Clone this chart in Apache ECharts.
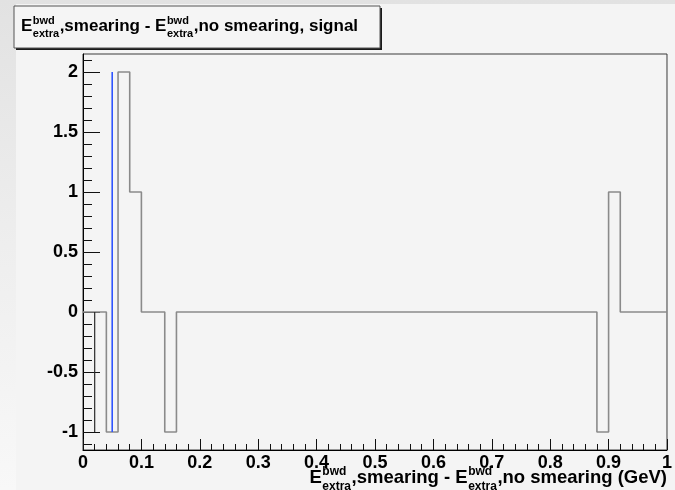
<!DOCTYPE html>
<html>
<head>
<meta charset="utf-8">
<script src="https://cdn.jsdelivr.net/npm/echarts@6/dist/echarts.min.js"></script>
<style>
  html, body { margin: 0; padding: 0; }
  body {
    width: 675px; height: 490px; overflow: hidden;
    background: linear-gradient(to bottom, #e2e2e2 0%, #eeeeee 50%, #f8f8f8 100%);
    position: relative;
  }
  #pad { position: absolute; left: 16px; top: 4px; right: 0; bottom: 0; background: #f4f4f4; }
  #chart { position: absolute; left: 0; top: 0; width: 675px; height: 490px; }
</style>
</head>
<body>
<div id="pad"></div>
<div id="chart"></div>
<script>
// Histogram of E_extra (smeared) minus E_extra (unsmeared), 50 bins on [0, 1] GeV
const binLow = 0;
const binWidth = 0.02;
const binValues = [
  0, 0, -1, 2, 1, 0, 0, -1, 0, 0,
  0, 0, 0, 0, 0, 0, 0, 0, 0, 0,
  0, 0, 0, 0, 0, 0, 0, 0, 0, 0,
  0, 0, 0, 0, 0, 0, 0, 0, 0, 0,
  0, 0, 0, 0, -1, 1, 0, 0, 0, 0
];
// Overlaid single-entry marks
const blueMark = [[0.05, -1], [0.05, 2]];
const darkMark = [[0.02, 0], [0.02, -1]];

// Axis ticks and labels
const yMajorTicks = [-1, -0.5, 0, 0.5, 1, 1.5, 2];
const yMinorTicks = [-1.1, -1, -0.9, -0.8, -0.7, -0.6, -0.5, -0.4, -0.3, -0.2, -0.1, 0,
  0.1, 0.2, 0.3, 0.4, 0.5, 0.6, 0.7, 0.8, 0.9, 1, 1.1, 1.2, 1.3, 1.4, 1.5, 1.6, 1.7, 1.8, 1.9, 2, 2.1];

// Step outline points: lower edge of each bin, closed at the upper edge of the last bin
const histPoints = binValues.map((v, i) => [binLow + i * binWidth, v]);
histPoints.push([binLow + binValues.length * binWidth, binValues[binValues.length - 1]]);

const FONT = 'Liberation Sans';
const LABEL_SIZE = 18;
const measureCtx = document.createElement('canvas').getContext('2d');
function textWidth(t, size) {
  measureCtx.font = 'bold ' + size + 'px "' + FONT + '"';
  return measureCtx.measureText(t).width;
}
function textEl(t, x, baseline, size) {
  return {
    type: 'text', x: x, y: baseline - 0.3465 * size, silent: true, z: 100,
    style: { text: t, fill: '#000', font: 'bold ' + size + 'px "' + FONT + '"', align: 'left', verticalAlign: 'middle' }
  };
}
// Lay out a label made of plain runs and stacked superscript/subscript columns
function latexLabel(parts, x, baseline, alignRight, main, script) {
  const widths = parts.map(p => typeof p === 'string'
    ? textWidth(p, main)
    : Math.max(textWidth(p.sup, script), textWidth(p.sub, script)) + 1);
  const total = widths.reduce((a, b) => a + b, 0);
  let cx = alignRight ? x - total : x;
  const els = [];
  parts.forEach((p, i) => {
    if (typeof p === 'string') {
      els.push(textEl(p, cx, baseline, main));
    } else {
      els.push(textEl(p.sup, cx + 0.5, baseline - 0.45 * main, script));
      els.push(textEl(p.sub, cx + 0.5, baseline + 0.36 * main, script));
    }
    cx += widths[i];
  });
  return els;
}

const titleParts = ['E', { sup: 'bwd', sub: 'extra' }, ',smearing - E', { sup: 'bwd', sub: 'extra' }, ',no smearing, signal'];
const xTitleParts = ['E', { sup: 'bwd', sub: 'extra' }, ',smearing - E', { sup: 'bwd', sub: 'extra' }, ',no smearing (GeV)'];

const chart = echarts.init(document.getElementById('chart'), null, { renderer: 'canvas' });

const gridLeft = 83, gridTop = 54, gridRight = 8, gridBottom = 40;

const option = {
  animation: false,
  backgroundColor: 'transparent',
  grid: {
    left: gridLeft, top: gridTop, right: gridRight, bottom: gridBottom,
    show: true, backgroundColor: '#f4f4f4', borderColor: '#3a3a3a', borderWidth: 1
  },
  xAxis: {
    type: 'value', min: 0, max: 1, interval: 0.1,
    axisLine: { show: true, onZero: false, lineStyle: { color: '#000', width: 1 } },
    axisTick: { show: true, inside: true, length: 11, lineStyle: { color: '#111' } },
    minorTick: { show: true, splitNumber: 5, length: 6, lineStyle: { color: '#111' } },
    splitLine: { show: false },
    axisLabel: {
      margin: 4, color: '#000', fontFamily: FONT, fontWeight: 'bold', fontSize: LABEL_SIZE,
      showMinLabel: true, showMaxLabel: true,
      formatter: v => String(Math.round(v * 10) / 10)
    }
  },
  yAxis: [
    {
      type: 'value', min: -1.15, max: 2.15,
      axisLine: { show: true, onZero: false, lineStyle: { color: '#000', width: 1 } },
      axisTick: { show: true, inside: true, length: 17, customValues: yMajorTicks, lineStyle: { color: '#111' } },
      splitLine: { show: false },
      axisLabel: {
        margin: 5, color: '#000', fontFamily: FONT, fontWeight: 'bold', fontSize: LABEL_SIZE,
        customValues: yMajorTicks, formatter: v => String(v)
      }
    },
    {
      type: 'value', min: -1.15, max: 2.15, position: 'left',
      axisLine: { show: false },
      axisTick: { show: true, inside: true, length: 9, customValues: yMinorTicks, lineStyle: { color: '#111' } },
      splitLine: { show: false },
      axisLabel: { show: false }
    }
  ],
  series: [
    {
      type: 'line', step: 'end', data: histPoints, showSymbol: false, symbol: 'none',
      lineStyle: { color: '#8a8a8a', width: 1.6 }, z: 3
    },
    {
      type: 'line', data: darkMark, showSymbol: false, symbol: 'none',
      lineStyle: { color: '#2a2a2a', width: 1.2 }, z: 4
    },
    {
      type: 'line', data: blueMark, showSymbol: false, symbol: 'none',
      lineStyle: { color: '#2f55ff', width: 1.6 }, z: 5
    }
  ],
  graphic: [
    { type: 'rect', shape: { x: 16, y: 8, width: 366, height: 42 }, style: { fill: '#1a1a1a' }, z: 90, silent: true },
    { type: 'rect', shape: { x: 14, y: 6, width: 366, height: 42 }, style: { fill: '#f5f5f5', stroke: '#555', lineWidth: 1 }, z: 91, silent: true }
  ].concat(latexLabel(titleParts, 21, 32, false, 17, 11))
   .concat(latexLabel(xTitleParts, 667, 484, true, 18.5, 12))
};

chart.setOption(option);
</script>
</body>
</html>
